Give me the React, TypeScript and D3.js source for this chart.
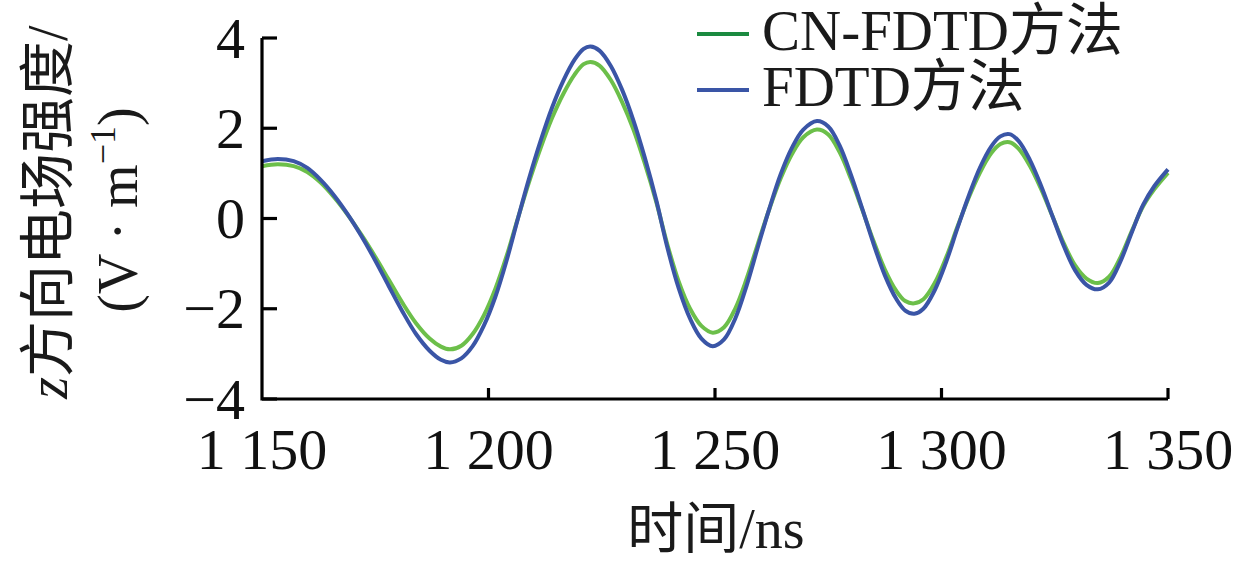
import { scaleLinear, line as d3Line, curveCatmullRom } from "d3";

// sample times (ns), shared by both series
const times = [
  1150, 1153.5, 1157, 1160, 1163, 1166, 1169, 1172, 1175, 1178, 1181, 1184,
  1187, 1189.5, 1191.5, 1194, 1196.5, 1199, 1201.5, 1204, 1206.5, 1209, 1211.5,
  1214, 1216.5, 1219, 1221, 1222.5, 1224.5, 1227, 1229.5, 1232, 1234.5, 1237,
  1239.5, 1242, 1244.5, 1247, 1249.5, 1252, 1254.5, 1257, 1259.5, 1262, 1264.5,
  1267, 1269.5, 1272.5, 1275, 1277.5, 1280, 1282.5, 1285, 1287.5, 1290, 1292,
  1294, 1296, 1298.5, 1301, 1303.5, 1306, 1308.5, 1311, 1313, 1315, 1317,
  1319.5, 1322, 1324.5, 1327, 1329.5, 1332, 1334.5, 1337, 1339.5, 1342, 1344.5,
  1347, 1350,
];

const fdtd = [
  1.27, 1.32, 1.27, 1.12, 0.85, 0.5, 0.08, -0.4, -0.93, -1.5, -2.06, -2.56,
  -2.93, -3.13, -3.19, -3.1, -2.83, -2.37, -1.74, -0.93, 0.0, 0.9, 1.72, 2.45,
  3.05, 3.52, 3.76, 3.81, 3.72, 3.38, 2.85, 2.17, 1.35, 0.42, -0.65, -1.55,
  -2.22, -2.66, -2.83, -2.68, -2.21, -1.48, -0.62, 0.22, 0.98, 1.57, 1.97, 2.16,
  2.04, 1.62, 0.97, 0.22, -0.56, -1.26, -1.78, -2.04, -2.11, -2.0, -1.59, -0.97,
  -0.22, 0.5, 1.13, 1.6, 1.82, 1.87, 1.72, 1.3, 0.72, 0.05, -0.61, -1.15, -1.47,
  -1.57, -1.42, -0.95, -0.31, 0.3, 0.72, 1.09,
];

const cnFdtd = [
  1.16, 1.2, 1.16, 1.03, 0.79, 0.46, 0.07, -0.37, -0.85, -1.36, -1.87, -2.32,
  -2.66, -2.84, -2.9, -2.82, -2.56, -2.14, -1.56, -0.83, 0.01, 0.82, 1.56, 2.22,
  2.76, 3.19, 3.42, 3.47, 3.39, 3.07, 2.58, 1.97, 1.22, 0.38, -0.58, -1.4, -2.0,
  -2.38, -2.53, -2.41, -1.99, -1.33, -0.55, 0.21, 0.89, 1.43, 1.8, 1.97, 1.86,
  1.47, 0.88, 0.2, -0.5, -1.13, -1.6, -1.83, -1.88, -1.79, -1.43, -0.87, -0.19,
  0.46, 1.02, 1.45, 1.65, 1.69, 1.55, 1.17, 0.65, 0.05, -0.55, -1.04, -1.33,
  -1.43, -1.29, -0.86, -0.28, 0.27, 0.65, 1.01,
];

const xTickValues = [1150, 1200, 1250, 1300, 1350];
const xTickLabels = ["1 150", "1 200", "1 250", "1 300", "1 350"];
const yTickValues = [-4, -2, 0, 2, 4];
const yTickLabels = ["\u22124", "\u22122", "0", "2", "4"];

const legendNames = ["CN-FDTD", "FDTD"];
const legendSuffix = "方法";

const FONT = "'Liberation Serif', 'Times New Roman', 'Noto Sans CJK SC', serif";
const CJK = "'Noto Sans CJK SC', sans-serif";

export default function App() {
  const margin = { left: 262, right: 70, top: 38, bottom: 167 };
  const W = 1238;
  const H = 566;
  const width = W - margin.left - margin.right;
  const height = H - margin.top - margin.bottom;

  const xScale = scaleLinear().domain([1150, 1350]).range([0, width]);
  const yScale = scaleLinear().domain([-4, 4]).range([height, 0]);

  const lineGen = d3Line<number>()
    .x((_, i) => xScale(times[i]))
    .y((d) => yScale(d))
    .curve(curveCatmullRom);

  const series = [
    { name: legendNames[0], values: cnFdtd, color: "#6cbf4a", legendColor: "#1b8a40" },
    { name: legendNames[1], values: fdtd, color: "#3a55a6", legendColor: "#3a55a6" },
  ];

  return (
    <svg
      width={W}
      height={H}
      style={{ position: "absolute", left: 0, top: 0, background: "#fff" }}
      fontFamily={FONT}
    >
      {/* y-axis title, two lines */}
      <text
        transform={`translate(67,212) rotate(-90)`}
        textAnchor="middle"
        fontSize={56}
        fill="#1a1a1a"
      >
        <tspan fontStyle="italic">z</tspan>
        <tspan fontFamily={CJK}>方向电场强度</tspan>
        <tspan>/</tspan>
      </text>
      <text
        transform={`translate(137,210) rotate(-90)`}
        textAnchor="middle"
        fontSize={56}
        fill="#1a1a1a"
      >
        <tspan>(V · m</tspan>
        <tspan fontSize={36} dy={-22}>
          −1
        </tspan>
        <tspan dy={22}>)</tspan>
      </text>

      {/* x-axis title */}
      <text x={716} y={548} textAnchor="middle" fontSize={56} fill="#1a1a1a">
        <tspan fontFamily={CJK}>时间</tspan>
        <tspan>/ns</tspan>
      </text>

      <g transform={`translate(${margin.left},${margin.top})`}>
        {series.map((s) => (
          <path
            key={s.name}
            d={lineGen(s.values) ?? ""}
            fill="none"
            stroke={s.color}
            strokeWidth={4}
            strokeLinejoin="round"
          />
        ))}

        {/* axes */}
        <path
          d={`M0,${yScale(4)}V${height}H${width}`}
          fill="none"
          stroke="#000"
          strokeWidth={3.2}
        />

        {yTickValues.map((t, i) => (
          <g key={`y-${t}`} transform={`translate(0,${yScale(t)})`}>
            <line x1={0} x2={15} stroke="#000" strokeWidth={3.2} />
            <text x={-17} dy="0.34em" textAnchor="end" fontSize={58} fill="#111">
              {yTickLabels[i]}
            </text>
          </g>
        ))}

        {xTickValues.map((t, i) => (
          <g key={`x-${t}`} transform={`translate(${xScale(t)},${height})`}>
            {i > 0 && <line y1={0} y2={-11} stroke="#000" strokeWidth={3.2} />}
            <text y={70} textAnchor="middle" fontSize={58} fill="#111">
              {xTickLabels[i]}
            </text>
          </g>
        ))}
      </g>

      {/* legend */}
      {series.map((s, i) => (
        <g key={`legend-${s.name}`} transform={`translate(697,${34 + i * 56})`}>
          <line x1={0} x2={52} stroke={s.legendColor} strokeWidth={4} />
          <text x={65} y={16} fontSize={57} fill="#1a1a1a">
            {s.name}
            <tspan fontFamily={CJK}>{legendSuffix}</tspan>
          </text>
        </g>
      ))}
    </svg>
  );
}
